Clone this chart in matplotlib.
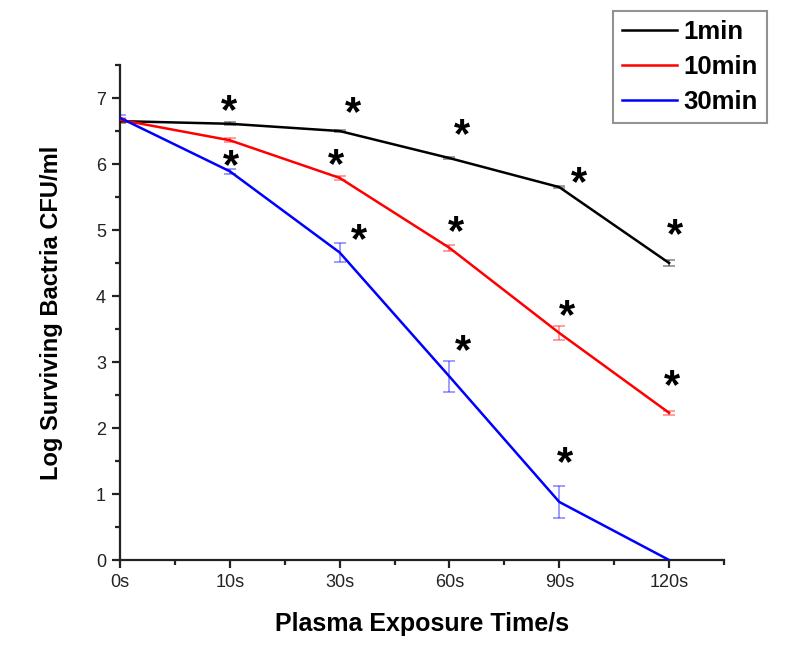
import matplotlib
matplotlib.use("Agg")
import matplotlib.pyplot as plt
from matplotlib.transforms import offset_copy

plt.rcParams["font.family"] = ["Liberation Sans", "DejaVu Sans"]

times = ["0s", "10s", "30s", "60s", "90s", "120s"]
labels = ["1min", "10min", "30min"]
colors = ["#000000", "#ff0000", "#0000ff"]

min1 = [6.65, 6.61, 6.50, 6.09, 5.65, 4.50]
min10 = [6.67, 6.36, 5.79, 4.73, 3.44, 2.23]
min30 = [6.70, 5.89, 4.66, 2.78, 0.88, 0.00]

err1 = [0.03, 0.02, 0.02, 0.02, 0.02, 0.05]
err10 = [0.03, 0.03, 0.03, 0.05, 0.10, 0.03]
err30 = [0.04, 0.04, 0.15, 0.23, 0.24, 0.00]

# significance stars (x in category index, y in log CFU/ml)
star_x = [0.99, 2.12, 3.11, 4.18, 5.05, 1.01, 1.97, 3.06, 4.07, 5.03, 2.18, 3.12, 4.05]
star_y = [6.92, 6.89, 6.56, 5.83, 5.05, 6.09, 6.11, 5.09, 3.82, 2.76, 4.97, 3.29, 1.59]

fig = plt.figure(figsize=(8, 6.53), dpi=100)
ax = fig.add_axes([0.15, 0.1424, 0.755, 0.758])

x = list(range(len(times)))
lines = []
for vals, errs, c, lab in zip([min1, min10, min30], [err1, err10, err30], colors, labels):
    ax.errorbar(x, vals, yerr=errs, fmt="none", ecolor=c, alpha=0.45,
                elinewidth=1.2, capsize=4, capthick=1.2, zorder=2)
    ln, = ax.plot(x, vals, color=c, lw=1.8, label=lab, zorder=3)
    lines.append(ln)

fs_star = 30
trans = offset_copy(ax.transData, fig=fig, x=0, y=-0.48 * fs_star, units="points")
for sx, sy in zip(star_x, star_y):
    ax.text(sx, sy, "*", fontsize=fs_star, fontweight="bold", ha="center",
            va="baseline", transform=trans, zorder=4)

ax.set_xlim(0, 5.5)
ax.set_ylim(0, 7.5)
ax.set_xticks(x)
ax.set_xticklabels(times)
ax.set_xticks([i + 0.5 for i in x], minor=True)
ax.set_yticks(range(8))
ax.set_yticks([i + 0.5 for i in range(8)], minor=True)

for s in ["top", "right"]:
    ax.spines[s].set_visible(False)
for s in ["left", "bottom"]:
    ax.spines[s].set_linewidth(1.6)
    ax.spines[s].set_color("#222222")

ax.tick_params(axis="both", which="major", direction="out", length=6, width=1.6,
               labelsize=13, colors="#222222", pad=4)
ax.tick_params(axis="both", which="minor", direction="out", length=3.5, width=1.6,
               colors="#222222")

ax.set_xlabel("Plasma Exposure Time/s", fontsize=18, fontweight="bold", labelpad=15)
ax.set_ylabel("Log Surviving Bactria CFU/ml", fontsize=17, fontweight="bold", labelpad=24)

leg = fig.legend(handles=lines, loc="upper right", bbox_to_anchor=(0.959, 0.983),
                 prop={"size": 18.5, "weight": "bold"}, frameon=True, fancybox=False,
                 handlelength=2.15, handletextpad=0.25, labelspacing=0.42,
                 borderpad=0.35, borderaxespad=0)
leg.get_frame().set_edgecolor("#777777")
leg.get_frame().set_linewidth(1.5)

fig.savefig("out.png", dpi=100)
